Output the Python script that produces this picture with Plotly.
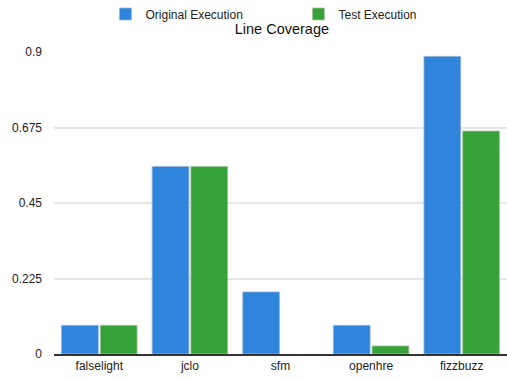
import plotly.graph_objects as go

# Line coverage per project, for the original run and the test run
projects = ["falselight", "jclo", "sfm", "openhre", "fizzbuzz"]
original_execution = [0.0855, 0.559, 0.185, 0.0855, 0.887]
test_execution = [0.0855, 0.559, 0.0, 0.024, 0.6645]

y_ticks = [0, 0.225, 0.45, 0.675, 0.9]
y_tick_labels = ["0", "0.225", "0.45", "0.675", "0.9"]

FONT = "Liberation Sans, Arial, Helvetica, sans-serif"


def outline_widths(values, width=0.8):
    # no outline on empty bars so nothing shows on the baseline
    return [width if v > 0 else 0 for v in values]


fig = go.Figure()
fig.add_trace(go.Bar(
    name="Original Execution",
    x=projects,
    y=original_execution,
    marker=dict(color="#2f84dc",
                line=dict(color="#9fb8d6", width=outline_widths(original_execution))),
))
fig.add_trace(go.Bar(
    name="Test Execution",
    x=projects,
    y=test_execution,
    marker=dict(color="#37a23a",
                line=dict(color="#a3c7a0", width=outline_widths(test_execution))),
))

fig.update_layout(
    width=507,
    height=379,
    margin=dict(l=54, r=0, t=52, b=25),
    paper_bgcolor="white",
    plot_bgcolor="white",
    font=dict(family=FONT, size=12, color="#222"),
    barmode="group",
    bargap=0.145,
    bargroupgap=0.05,
    title=dict(
        text="Line Coverage",
        x=0.556, xanchor="center",
        y=1 - 29 / 379, yref="container", yanchor="middle",
        font=dict(size=14.5, color="#111"),
    ),
    legend=dict(
        orientation="h",
        xref="container",
        x=0.208, xanchor="left",
        y=1 - 14 / 379, yref="container", yanchor="middle",
        font=dict(size=12, color="#222"),
        entrywidth=148,
        itemwidth=30,
        bgcolor="rgba(0,0,0,0)",
    ),
    xaxis=dict(
        showgrid=False,
        showline=True,
        linecolor="#333",
        linewidth=1.5,
        ticks="",
        tickfont=dict(size=12, color="#222"),
    ),
    yaxis=dict(
        range=[0, 0.9],
        tickvals=y_ticks,
        ticktext=y_tick_labels,
        showgrid=True,
        gridcolor="#e6e6e6",
        gridwidth=1.5,
        zeroline=False,
        showline=False,
        ticks="",
        ticklabelstandoff=11,
        tickfont=dict(size=12, color="#222"),
    ),
)

fig.write_html("out.html")
